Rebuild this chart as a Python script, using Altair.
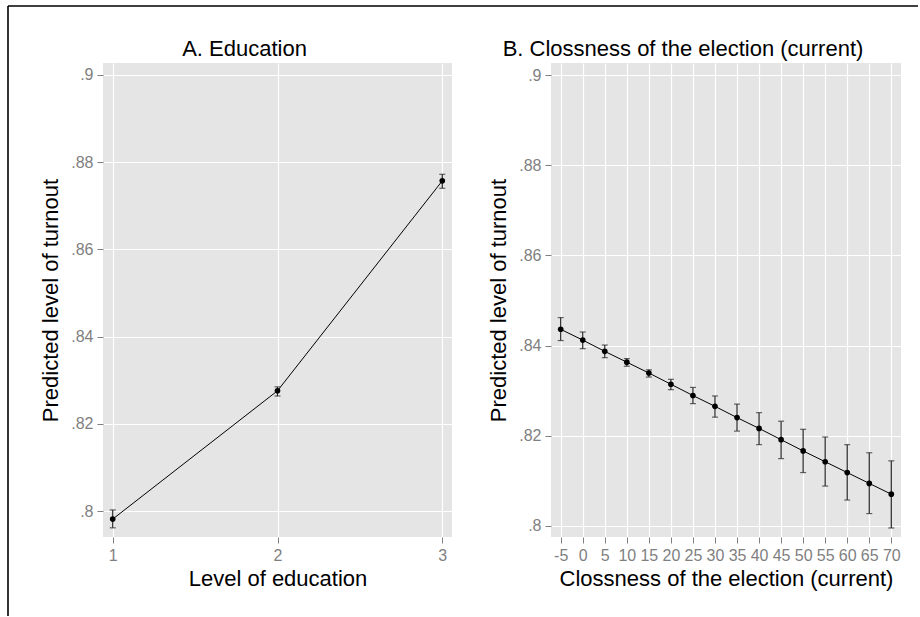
import altair as alt
import pandas as pd

# Panel A: predicted turnout by level of education (with 95% CI)
edu_levels = [1, 2, 3]
edu_pred = [0.7982, 0.8276, 0.8757]
edu_lo = [0.7962, 0.8264, 0.8740]
edu_hi = [0.8003, 0.8285, 0.8772]

# Panel B: predicted turnout by closeness of the election (current)
close_vals = [-5, 0, 5, 10, 15, 20, 25, 30, 35, 40, 45, 50, 55, 60, 65, 70]
close_pred = [0.8436, 0.8412, 0.8387, 0.8363, 0.8339, 0.8314, 0.8289, 0.8265,
              0.8240, 0.8216, 0.8191, 0.8166, 0.8142, 0.8118, 0.8094, 0.8070]
close_lo = [0.8411, 0.8393, 0.8373, 0.8354, 0.8330, 0.8302, 0.8271, 0.8241,
            0.8210, 0.8180, 0.8149, 0.8118, 0.8088, 0.8057, 0.8027, 0.7995]
close_hi = [0.8462, 0.8430, 0.8401, 0.8371, 0.8346, 0.8325, 0.8307, 0.8288,
            0.8270, 0.8251, 0.8232, 0.8214, 0.8197, 0.8180, 0.8162, 0.8144]

y_ticks = [0.8, 0.82, 0.84, 0.86, 0.88, 0.9]
y_title = "Predicted level of turnout"

FONT = "Liberation Sans"
INK = "#000000"
BAR = "#262626"
GREY = "#7f7f7f"
TITLE_SIZE = 22
LABEL_SIZE = 16

edu_df = pd.DataFrame({"x": edu_levels, "pred": edu_pred, "lo": edu_lo, "hi": edu_hi})
close_df = pd.DataFrame({"x": close_vals, "pred": close_pred, "lo": close_lo, "hi": close_hi})


def axis(title, values, expr):
    return alt.Axis(
        title=title, values=values, labelExpr=expr,
        labelFont=FONT, labelFontSize=LABEL_SIZE, labelColor=GREY,
        titleFont=FONT, titleFontSize=TITLE_SIZE, titleColor=INK, titleFontWeight="normal",
    )


def y_enc(field, domain):
    return alt.Y(
        field,
        type="quantitative",
        scale=alt.Scale(domain=domain, nice=False, zero=False),
        axis=axis(y_title, y_ticks, "substring(format(datum.value, '.2~f'), 1)"),
    )


def panel(df, x_domain, y_domain, x_title, x_values, title, title_x, width):
    x = alt.X(
        "x:Q",
        scale=alt.Scale(domain=x_domain, nice=False, zero=False),
        axis=axis(x_title, x_values, "'' + datum.value"),
    )
    base = alt.Chart(df)
    line = base.mark_line(color=INK, strokeWidth=1).encode(x=x, y=y_enc("pred", y_domain))
    bars = base.mark_errorbar(ticks=True, size=6, thickness=1.2, color=BAR).encode(
        x=x, y=y_enc("lo", y_domain), y2="hi:Q"
    )
    pts = base.mark_circle(color=INK, opacity=1, size=32).encode(x=x, y=y_enc("pred", y_domain))
    # panel heading, centred over the panel including its y-axis title
    head = alt.Chart(pd.DataFrame({"t": [title]})).mark_text(
        font=FONT, fontSize=TITLE_SIZE, color=INK, align="center", baseline="alphabetic"
    ).encode(text="t:N", x=alt.value(title_x), y=alt.value(-7))
    return alt.layer(line, bars, pts, head).properties(width=width, height=474)


left = panel(
    edu_df, [0.941, 3.059], [0.7941, 0.9027], "Level of education", [1, 2, 3],
    "A. Education", 141.5, 349,
)

# thin figure frame along the top and left edges
one = pd.DataFrame({"k": [0]})
frame_left = alt.Chart(one).mark_rule(color=INK, strokeWidth=1.6).encode(
    x=alt.value(-95), y=alt.value(-57), y2=alt.value(553)
)
frame_top = alt.Chart(one).mark_rule(color=INK, strokeWidth=1.6).encode(
    x=alt.value(-95), x2=alt.value(815), y=alt.value(-57)
)
left = alt.layer(left, frame_left, frame_top)

right = panel(
    close_df, [-7.2, 72.2], [0.7975, 0.9027], "Clossness of the election (current)",
    close_vals, "B. Clossness of the election (current)", 132, 350,
)

chart = (
    alt.hconcat(left, right, spacing=99, bounds="flush")
    .properties(
        padding={"left": 7, "top": 5, "right": 1, "bottom": 0},
        background="white",
    )
    .configure_view(fill="#E5E5E5", stroke=None)
    .configure_axis(
        tickColor=GREY, tickSize=6, tickWidth=1,
        domain=False, grid=True, gridColor="#FFFFFF", gridWidth=1.2,
        labelPadding=4,
    )
    .configure_axisX(titlePadding=5)
    .configure_axisY(titlePadding=8)
)

chart.save("out.html", embed_options={"renderer": "svg", "actions": False})
